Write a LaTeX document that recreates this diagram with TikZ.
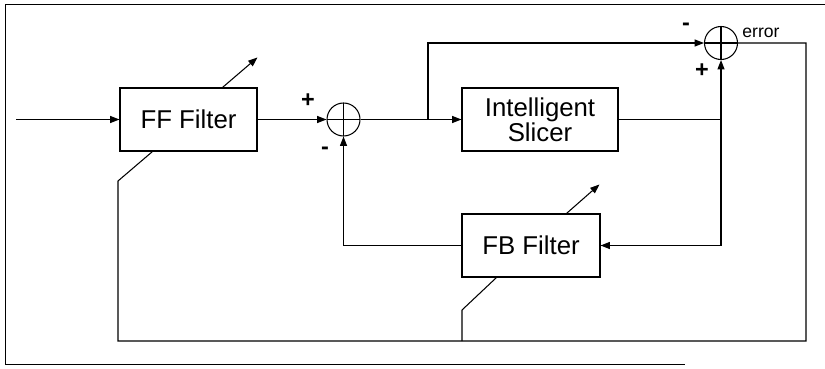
\documentclass[tikz,border=0pt]{standalone}
\usepackage{fontspec}
\setmainfont{Liberation Sans}
\usetikzlibrary{arrows.meta, positioning}

\begin{document}
\begin{tikzpicture}[
  x=0.03cm, y=-0.03cm, line width=0.9pt,
  block/.style={rectangle, draw, minimum height=1.89cm, inner sep=0pt,
                font=\fontsize{22}{20}\selectfont, align=center},
  sum/.style={circle, draw, minimum size=0.99cm, inner sep=0pt,
              path picture={\draw (path picture bounding box.north) -- (path picture bounding box.south)
                                  (path picture bounding box.west) -- (path picture bounding box.east);}},
  sign/.style={font=\fontsize{20}{20}\selectfont\bfseries, inner sep=0pt},
  arrow/.style={-{Triangle[length=8pt,width=6pt]}},
]
  \useasboundingbox (0,0) rectangle (825,368);
  % outer frame
  \draw[line width=0.6pt] (825,4) -- (5,4) -- (5,364) -- (685,364);

  % Blocks
  \node[block, minimum width=4.11cm] (ff)     at (188.5,119.5) {FF Filter};
  \node[sum]                         (s1)     at (343.5,119.5) {};
  \node[block, minimum width=4.68cm] (slicer) at (540,119.5)   {Intelligent\\Slicer};
  \node[sum]                         (s2)     at (721,43)      {};
  \node[block, minimum width=4.14cm] (fb)     at (531,245.5)   {FB Filter};

  % Points
  \coordinate (in)     at (16,119.5);
  \coordinate (tap)    at (428,119.5);
  \coordinate (split)  at (721,119.5);
  \coordinate (errR)   at (806,43);
  \coordinate (fffoot) at (118,341);
  \coordinate (ffkink) at (118,181);
  \coordinate (fbfoot) at (462,341);
  \coordinate (fbkink) at (462,310);

  % Signs
  \node[sign] (p1) at (308,101) {+};
  \node[sign] (m1) at (325,151) {-};
  \node[sign] (p2) at (702,71)  {+};
  \node[sign] (m2) at (686,27)  {-};
  \node[font=\fontsize{15}{15}\selectfont, inner sep=0pt] (err) at (761,33) {error};

  % Forward path
  \draw[arrow] (in) -- (ff.west);
  \draw[arrow] (ff.east) -- (s1.west);
  \draw[arrow] (s1.east) -- (slicer.west);
  \draw[arrow] (tap) |- (s2.west);
  \draw (slicer.east) -- (split);
  \draw[arrow] (split) -- (s2.south);
  \draw[arrow] (split) |- (fb.east);
  \draw[arrow] (fb.west) -| (s1.south);

  % Error feedback to the filters
  \draw (s2.east) -| (errR |- fffoot) -- (fffoot) -- (ffkink)
        -- ([xshift=0.99cm]ff.south west);
  \draw (fbfoot) -- (fbkink) -- ([xshift=1.05cm]fb.south west);

  % Adaptation arrows
  \draw[arrow] ([xshift=3.09cm]ff.north west) -- ++(35,-30);
  \draw[arrow] ([xshift=3.15cm]fb.north west) -- ++(33,-29);
\end{tikzpicture}
\end{document}
